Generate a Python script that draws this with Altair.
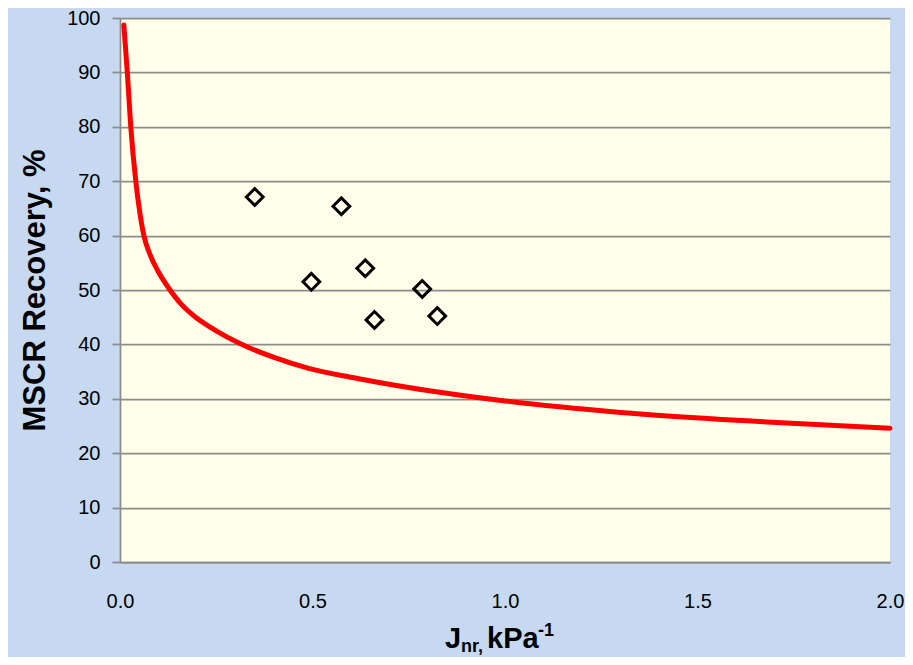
import altair as alt
import pandas as pd

# Red reference curve
curve_jnr = [0.010, 0.019, 0.028, 0.041, 0.052, 0.062, 0.078, 0.100, 0.125, 0.160,
             0.200, 0.250, 0.310, 0.400, 0.490, 0.620, 0.830, 1.000, 1.300, 1.640, 2.000]
curve_rec = [98.7, 90.0, 80.0, 70.0, 64.0, 60.0, 56.5, 53.3, 50.5, 47.3,
             44.8, 42.5, 40.2, 37.6, 35.6, 33.7, 31.2, 29.6, 27.5, 25.9, 24.6]

# Measured binders (diamonds)
point_jnr = [0.350, 0.575, 0.497, 0.637, 0.661, 0.785, 0.824]
point_rec = [67.1, 65.4, 51.5, 54.0, 44.5, 50.2, 45.2]

y_ticks = list(range(0, 101, 10))
x_ticks = [0.0, 0.5, 1.0, 1.5, 2.0]

curve_df = pd.DataFrame({"Jnr": curve_jnr, "Rec": curve_rec})
pts_df = pd.DataFrame({"Jnr": point_jnr, "Rec": point_rec})
one = pd.DataFrame({"a": [0]})

GRID = "#8C8C8C"
FONT = "Liberation Sans"

x_scale = alt.Scale(domain=[0, 2], nice=False, zero=False)
y_scale = alt.Scale(domain=[0, 100], nice=False)

x_axis = alt.Axis(values=x_ticks, format=".1f", grid=False, ticks=False,
                  domainColor=GRID, domainWidth=1.75, labelFont=FONT,
                  labelFontSize=20, labelColor="black", labelPadding=29,
                  title=None, labelFlush=False)
y_axis = alt.Axis(values=y_ticks, grid=True, gridColor=GRID, gridWidth=1.75,
                  tickColor=GRID, tickSize=8, tickWidth=1.75, domainColor=GRID,
                  domainWidth=1.75, labelFont=FONT, labelFontSize=20,
                  labelColor="black", labelPadding=12, title="MSCR Recovery, %",
                  titleFont=FONT, titleFontSize=31, titleFontWeight="bold",
                  titleColor="black", titlePadding=15)

line = alt.Chart(curve_df).mark_line(color="#FF0000", strokeWidth=5,
                                     strokeCap="round", interpolate="monotone").encode(
    x=alt.X("Jnr:Q", scale=x_scale, axis=x_axis),
    y=alt.Y("Rec:Q", scale=y_scale, axis=y_axis),
)

pts = alt.Chart(pts_df).mark_point(shape="diamond", filled=False, size=280,
                                   strokeWidth=3, color="black", opacity=1).encode(
    x=alt.X("Jnr:Q", scale=x_scale),
    y=alt.Y("Rec:Q", scale=y_scale),
)

def label(txt, x, y, size):
    return alt.Chart(one).mark_text(text=txt, font=FONT, fontSize=size,
                                    fontWeight="bold", color="black",
                                    align="left", baseline="alphabetic").encode(
        x=alt.value(x), y=alt.value(y))

xt = (label("J", 325, 630, 29) + label("nr,", 341, 634, 18)
      + label("kPa", 367, 630, 29) + label("-1", 418, 618, 18))

chart = alt.layer(line, pts, xt).properties(
    width=770, height=544,
    autosize=alt.AutoSizeParams(type="none"),
    padding={"left": 112, "top": 10, "right": 15, "bottom": 95},
    background="#C6D9F1",
).configure_view(fill="#FFFFEA", stroke=None)

chart.save("out.html", embed_options={"renderer": "svg", "actions": False})
